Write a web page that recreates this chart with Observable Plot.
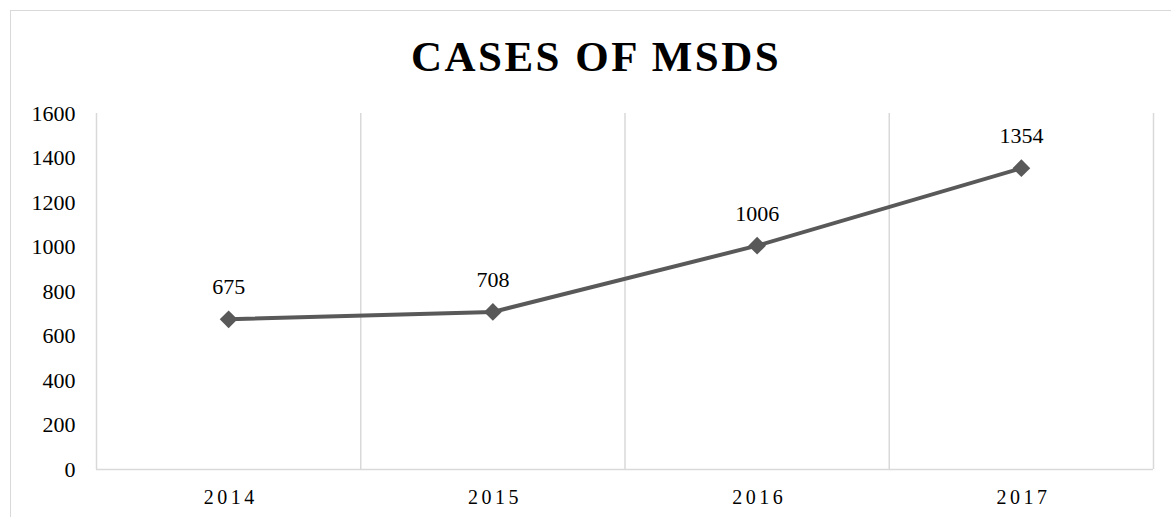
<!DOCTYPE html>
<html><head><meta charset="utf-8">
<script src="https://cdn.jsdelivr.net/npm/d3@7"></script>
<script src="https://cdn.jsdelivr.net/npm/@observablehq/plot@0.6"></script>
<style>
body{margin:0;background:#fff;}
#wrap{position:relative;width:1171px;height:517px;overflow:hidden;}
#box{position:absolute;left:10px;top:10px;width:1200px;height:600px;border:1.5px solid #d9d9d9;pointer-events:none;z-index:2;}
g[aria-label="x-axis tick label"] text{letter-spacing:3.5px;}
</style></head><body><div id="wrap"><div id="box"></div></div>
<script>
const categories = ["2014", "2015", "2016", "2017"];
const cases = [675, 708, 1006, 1354];
const yTicks = [0, 200, 400, 600, 800, 1000, 1200, 1400, 1600];
const chartTitle = "CASES OF MSDS";

const data = categories.map((c, i) => ({i, year: c, value: cases[i]}));
const bounds = d3.range(categories.length + 1).map(i => i - 0.5);

const plot = Plot.plot({
  width: 1171, height: 517,
  marginLeft: 96, marginRight: 18, marginTop: 113, marginBottom: 48,
  style: {fontFamily: "'Liberation Serif', 'Times New Roman', serif", background: "transparent", color: "#000", overflow: "visible"},
  x: {type: "linear", domain: [-0.5, categories.length - 0.5]},
  y: {domain: [0, 1600]},
  marks: [
    Plot.ruleX(bounds, {stroke: "#d9d9d9", strokeWidth: 1.5}),
    Plot.ruleY([0], {stroke: "#d9d9d9", strokeWidth: 1.5}),
    Plot.axisY({ticks: yTicks, tickFormat: d => String(d), tickSize: 0, tickPadding: 21, fontSize: 22, label: null}),
    Plot.axisX({ticks: d3.range(categories.length), tickFormat: i => categories[i], tickSize: 0, tickPadding: 20, fontSize: 20, label: null, dx: 2}),
    Plot.line(data, {x: "i", y: "value", stroke: "#595959", strokeWidth: 4}),
    Plot.dot(data, {x: "i", y: "value", symbol: "diamond2", r: 8, fill: "#595959", stroke: "none"}),
    Plot.text(data, {x: "i", y: "value", text: d => String(d.value), dy: -32, fontSize: 22, fill: "#000"}),
    Plot.text([chartTitle], {frameAnchor: "top", dx: -29, dy: -43, lineAnchor: "bottom", fontSize: 43, fontWeight: "bold", fill: "#000"})
  ]
});
const texts = plot.querySelectorAll('g[aria-label="text"]');
if (texts.length) texts[texts.length - 1].style.letterSpacing = "2.5px";
document.getElementById("wrap").appendChild(plot);
</script></body></html>
